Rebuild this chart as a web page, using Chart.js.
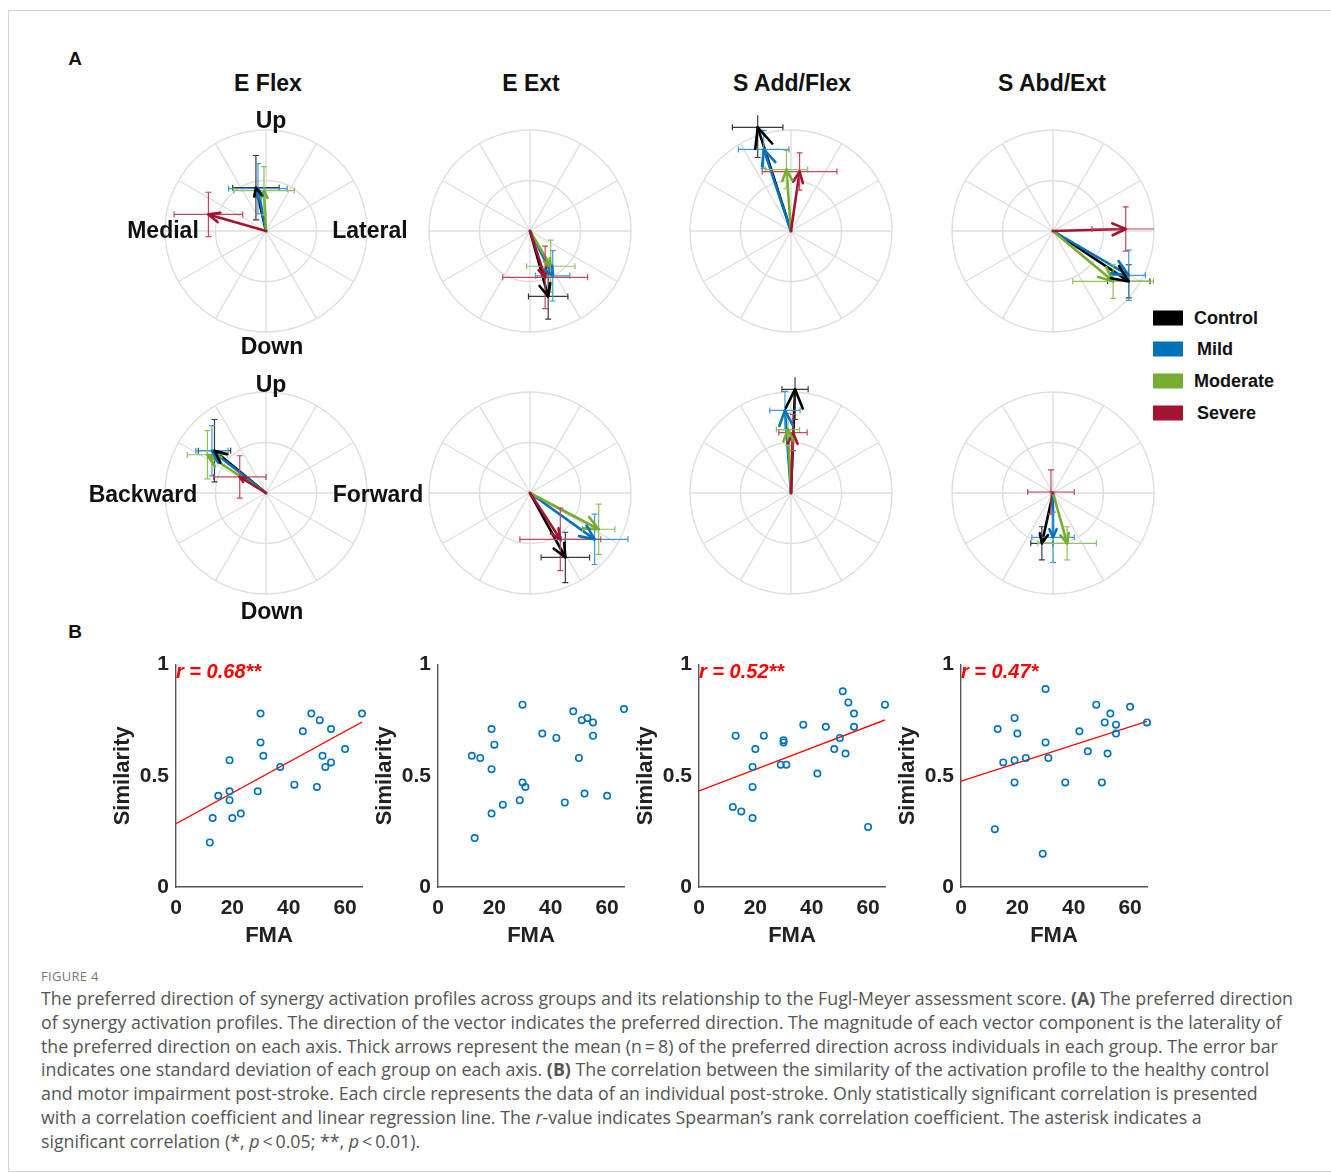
<!DOCTYPE html>
<html>
<head>
<meta charset="utf-8">
<script src="https://cdn.jsdelivr.net/npm/chart.js@4.4.1/dist/chart.umd.min.js"></script>
<style>
  body { margin: 0; background: #fff; }
  #fig { position: relative; width: 1331px; height: 1173px; overflow: hidden; font-family: "Liberation Sans", Arial, sans-serif; }
  #frame { position: absolute; left: 8px; top: 10px; width: 1340px; height: 1160px; border: 1px solid #d4d4d4; }
  canvas { position: absolute; z-index: 1; }
  .lab { position: absolute; z-index: 2; transform: translate(-50%, -50%); white-space: nowrap; font-weight: bold; font-size: 23px; color: #111; }
  .panel { font-size: 19px; }
  .leg { position: absolute; transform: translateY(-50%); font-weight: bold; font-size: 18px; color: #111; white-space: nowrap; }
  .sw { position: absolute; width: 30px; height: 15px; transform: translateY(-50%); }
  #figno { position: absolute; left: 41px; top: 967px; font-family: "Open Sans", sans-serif; font-size: 13px; color: #777; letter-spacing: 0.3px; }
  #cap { position: absolute; left: 41px; top: 987px; font-family: "Open Sans", sans-serif; font-size: 17.8px; line-height: 23.8px; color: #555; white-space: nowrap; }
</style>
</head>
<body>
<div id="fig">
  <div id="frame"></div>

  <div class="lab panel" style="left:75px;top:59px">A</div>
  <div class="lab panel" style="left:75px;top:632px">B</div>

  <div class="lab" style="left:268px;top:83px">E Flex</div>
  <div class="lab" style="left:531px;top:83px">E Ext</div>
  <div class="lab" style="left:792px;top:83px">S Add/Flex</div>
  <div class="lab" style="left:1052px;top:83px">S Abd/Ext</div>

  <div class="lab" style="left:271px;top:120px">Up</div>
  <div class="lab" style="left:163px;top:230px">Medial</div>
  <div class="lab" style="left:370px;top:230px">Lateral</div>
  <div class="lab" style="left:272px;top:346px">Down</div>

  <div class="lab" style="left:271px;top:384px">Up</div>
  <div class="lab" style="left:143px;top:494px">Backward</div>
  <div class="lab" style="left:378px;top:494px">Forward</div>
  <div class="lab" style="left:272px;top:611px">Down</div>

  <div id="legend"></div>

  <canvas id="p0" width="240" height="242"></canvas>
  <canvas id="p1" width="240" height="242"></canvas>
  <canvas id="p2" width="240" height="242"></canvas>
  <canvas id="p3" width="240" height="242"></canvas>
  <canvas id="p4" width="240" height="242"></canvas>
  <canvas id="p5" width="240" height="242"></canvas>
  <canvas id="p6" width="240" height="242"></canvas>
  <canvas id="p7" width="240" height="242"></canvas>

  <canvas id="s0" width="270" height="307"></canvas>
  <canvas id="s1" width="270" height="307"></canvas>
  <canvas id="s2" width="270" height="307"></canvas>
  <canvas id="s3" width="270" height="307"></canvas>

  <div id="figno">FIGURE 4</div>
  <div id="cap">
    The preferred direction of synergy activation profiles across groups and its relationship to the Fugl-Meyer assessment score. <b>(A)</b> The preferred direction<br>
    of synergy activation profiles. The direction of the vector indicates the preferred direction. The magnitude of each vector component is the laterality of<br>
    the preferred direction on each axis. Thick arrows represent the mean (n&#8201;=&#8201;8) of the preferred direction across individuals in each group. The error bar<br>
    indicates one standard deviation of each group on each axis. <b>(B)</b> The correlation between the similarity of the activation profile to the healthy control<br>
    and motor impairment post-stroke. Each circle represents the data of an individual post-stroke. Only statistically significant correlation is presented<br>
    with a correlation coefficient and linear regression line. The <i>r</i>-value indicates Spearman’s rank correlation coefficient. The asterisk indicates a<br>
    significant correlation (*, <i>p</i>&#8201;&lt;&#8201;0.05; **, <i>p</i>&#8201;&lt;&#8201;0.01).
  </div>
</div>

<script>
// groups and colours
const groups = ["Control", "Mild", "Moderate", "Severe"];
const arrowColors = ["#000000", "#0072BD", "#77AC30", "#A2142F"];
const errColors = ["#3a3a3a", "#3d9ad6", "#8fc25a", "#c2475f"];

// panel A: mean vector tips [x, y] and SDs [sx, sy] per group (Control, Mild, Moderate, Severe)
// row 1: x = medial(-)/lateral(+), y = down(-)/up(+)
const flexFrontTip = [[-0.10, 0.43], [-0.08, 0.42], [-0.02, 0.40], [-0.57, 0.165]];
const flexFrontSd  = [[0.23, 0.32], [0.29, 0.25], [0.30, 0.24], [0.34, 0.22]];
const extFrontTip  = [[0.18, -0.65], [0.225, -0.445], [0.205, -0.35], [0.15, -0.46]];
const extFrontSd   = [[0.195, 0.225], [0.17, 0.25], [0.24, 0.26], [0.42, 0.31]];
const addFrontTip  = [[-0.33, 1.03], [-0.27, 0.81], [-0.045, 0.61], [0.085, 0.59]];
const addFrontSd   = [[0.25, 0.30], [0.25, 0.19], [0.21, 0.19], [0.37, 0.185]];
const abdFrontTip  = [[0.75, -0.50], [0.75, -0.44], [0.595, -0.50], [0.72, 0.02]];
const abdFrontSd   = [[0.21, 0.165], [0.165, 0.25], [0.40, 0.17], [0.335, 0.22]];
// row 2: x = backward(-)/forward(+), y = down(-)/up(+)
const flexSagTip = [[-0.51, 0.42], [-0.535, 0.42], [-0.58, 0.38], [-0.26, 0.16]];
const flexSagSd  = [[0.16, 0.31], [0.16, 0.25], [0.20, 0.24], [0.26, 0.21]];
const extSagTip  = [[0.35, -0.64], [0.64, -0.46], [0.68, -0.36], [0.30, -0.46]];
const extSagSd   = [[0.24, 0.25], [0.33, 0.25], [0.16, 0.25], [0.40, 0.31]];
const addSagTip  = [[0.04, 1.03], [-0.06, 0.82], [-0.03, 0.63], [0.02, 0.60]];
const addSagSd   = [[0.13, 0.30], [0.15, 0.19], [0.115, 0.16], [0.14, 0.18]];
const abdSagTip  = [[-0.11, -0.50], [0.00, -0.44], [0.14, -0.50], [-0.02, 0.01]];
const abdSagSd   = [[0.11, 0.165], [0.21, 0.25], [0.29, 0.165], [0.23, 0.22]];

// panel B: FMA score of each post-stroke participant and similarity per synergy
const fma  = [12, 13, 15, 19, 19, 19, 20, 23, 29, 30, 30, 31, 37, 42, 45, 48, 50, 51, 52, 53, 55, 55, 60, 66];
const simEFlex  = [0.20, 0.31, 0.41, 0.57, 0.43, 0.39, 0.31, 0.33, 0.43, 0.78, 0.65, 0.59, 0.54, 0.46, 0.70, 0.78, 0.45, 0.75, 0.59, 0.54, 0.71, 0.56, 0.62, 0.78];
const simEExt   = [0.59, 0.22, 0.58, 0.71, 0.53, 0.33, 0.64, 0.37, 0.39, 0.82, 0.47, 0.45, 0.69, 0.67, 0.38, 0.79, 0.58, 0.75, 0.42, 0.76, 0.74, 0.68, 0.41, 0.80];
const simSAdd   = [0.36, 0.68, 0.34, 0.54, 0.45, 0.31, 0.62, 0.68, 0.55, 0.66, 0.65, 0.55, 0.73, 0.51, 0.72, 0.62, 0.67, 0.88, 0.60, 0.83, 0.78, 0.72, 0.27, 0.82];
const simSAbd   = [0.26, 0.71, 0.56, 0.76, 0.57, 0.47, 0.69, 0.58, 0.15, 0.89, 0.65, 0.58, 0.47, 0.70, 0.61, 0.82, 0.47, 0.74, 0.60, 0.78, 0.73, 0.69, 0.81, 0.74];
// regression line ends at FMA 0 and 66 (null = not significant)
const fitX = [0, 66];
const fitEFlex = [0.285, 0.742];
const fitSAdd  = [0.432, 0.751];
const fitSAbd  = [0.476, 0.745];
const rLabels = ["r = 0.68**", "", "r = 0.52**", "r = 0.47*"];

const fontFam = '"Liberation Sans", Arial, sans-serif';

// legend
const legend = document.getElementById('legend');
const legY = [318, 349, 381, 413];
const legX = [1194, 1197, 1194, 1197];
groups.forEach((g, i) => {
  legend.insertAdjacentHTML('beforeend',
    `<div class="sw" style="left:1153px;top:${legY[i]}px;background:${arrowColors[i]}"></div>` +
    `<div class="leg" style="left:${legX[i]}px;top:${legY[i]}px">${g}</div>`);
});

// polar grid: circles at 0.5 and 1, spokes every 30 degrees
const polarGrid = {
  id: 'polarGrid',
  beforeDatasetsDraw(chart) {
    const {ctx, scales: {x, y}} = chart;
    const cx = x.getPixelForValue(0), cy = y.getPixelForValue(0);
    const r = x.getPixelForValue(1) - cx;
    ctx.save();
    ctx.strokeStyle = '#dedede';
    ctx.lineWidth = 1.4;
    [0.5, 1].forEach(f => { ctx.beginPath(); ctx.arc(cx, cy, r * f, 0, Math.PI * 2); ctx.stroke(); });
    for (let a = 0; a < 360; a += 30) {
      const t = a * Math.PI / 180;
      ctx.beginPath();
      ctx.moveTo(cx, cy);
      ctx.lineTo(cx + r * Math.cos(t), cy - r * Math.sin(t));
      ctx.stroke();
    }
    ctx.restore();
  }
};

// open V arrow heads at the tip of each mean vector
const arrowHeads = {
  id: 'arrowHeads',
  afterDatasetsDraw(chart) {
    const ctx = chart.ctx;
    chart.data.datasets.forEach((ds, i) => {
      if (!ds.arrow) return;
      const pts = chart.getDatasetMeta(i).data;
      const a = pts[0], b = pts[1];
      const dx = b.x - a.x, dy = b.y - a.y, len = Math.hypot(dx, dy);
      if (len < 5) return;
      const ang = Math.atan2(dy, dx), h = 0.2 * len, w = 0.42;
      ctx.save();
      ctx.strokeStyle = ds.borderColor;
      ctx.lineWidth = ds.borderWidth;
      ctx.lineCap = 'round';
      ctx.lineJoin = 'round';
      ctx.beginPath();
      ctx.moveTo(b.x - h * Math.cos(ang - w), b.y - h * Math.sin(ang - w));
      ctx.lineTo(b.x, b.y);
      ctx.lineTo(b.x - h * Math.cos(ang + w), b.y - h * Math.sin(ang + w));
      ctx.stroke();
      ctx.restore();
    });
  }
};

function polarChart(id, left, top, tips, sds) {
  const el = document.getElementById(id);
  el.style.left = left + 'px';
  el.style.top = top + 'px';
  const datasets = [];
  // first dataset is drawn last, so Severe goes first to sit on top
  for (let i = groups.length - 1; i >= 0; i--) {
    const [x, y] = tips[i], [sx, sy] = sds[i];
    const bar = { showLine: true, borderColor: errColors[i], borderWidth: 1.2, pointStyle: 'line',
      pointRadius: 3, pointBorderColor: errColors[i], pointBorderWidth: 1.2 };
    datasets.push(Object.assign({ data: [{x: x - sx, y}, {x: x + sx, y}], pointRotation: 90 }, bar));
    datasets.push(Object.assign({ data: [{x, y: y - sy}, {x, y: y + sy}], pointRotation: 0 }, bar));
    datasets.push({ data: [{x: 0, y: 0}, {x, y}], showLine: true, arrow: true,
      borderColor: arrowColors[i], borderWidth: 2.6, pointRadius: 0, borderCapStyle: 'round' });
  }
  new Chart(el, {
    type: 'scatter',
    data: { datasets },
    options: {
      responsive: false, animation: false,
      layout: { padding: { left: 19, right: 19, top: 5, bottom: 5 } },
      plugins: { legend: { display: false }, tooltip: { enabled: false } },
      scales: {
        x: { display: false, min: -1, max: 1 },
        y: { display: false, min: -1.15, max: 1.15 }
      }
    },
    plugins: [polarGrid, arrowHeads]
  });
}

const colX = [266, 530, 791, 1053];
const rowY = [231, 493];
const polarTips = [flexFrontTip, extFrontTip, addFrontTip, abdFrontTip, flexSagTip, extSagTip, addSagTip, abdSagTip];
const polarSds = [flexFrontSd, extFrontSd, addFrontSd, abdFrontSd, flexSagSd, extSagSd, addSagSd, abdSagSd];
polarTips.forEach((t, k) => {
  polarChart('p' + k, colX[k % 4] - 120, rowY[Math.floor(k / 4)] - 121, t, polarSds[k]);
});

// red r-value in the upper left of each scatter
const rLabel = {
  id: 'rLabel',
  afterDraw(chart, args, opts) {
    if (!opts.text) return;
    const {ctx, chartArea, scales: {y}} = chart;
    ctx.save();
    ctx.font = 'italic bold 20px ' + fontFam;
    ctx.fillStyle = '#ff0000';
    ctx.textBaseline = 'middle';
    ctx.fillText(opts.text, chartArea.left, y.getPixelForValue(0.965));
    ctx.restore();
  }
};

function scatterChart(id, left, sims, fit, label) {
  const el = document.getElementById(id);
  el.style.left = left + 'px';
  el.style.top = '645px';
  const datasets = [{
    data: fma.map((f, i) => ({x: f, y: sims[i]})),
    pointStyle: 'circle', pointRadius: 3.2, pointBorderWidth: 1.6,
    pointBorderColor: '#0072BD', pointBackgroundColor: 'rgba(0,0,0,0)', clip: false
  }];
  if (fit) {
    datasets.push({ data: fitX.map((x, i) => ({x, y: fit[i]})), showLine: true,
      borderColor: '#ff0000', borderWidth: 1.3, pointRadius: 0 });
  }
  const tickFont = { family: fontFam, size: 21, weight: 'bold' };
  new Chart(el, {
    type: 'scatter',
    data: { datasets },
    options: {
      responsive: false, animation: false,
      layout: { padding: { left: 0, right: 12, top: 14, bottom: 0 } },
      plugins: { legend: { display: false }, tooltip: { enabled: false }, rLabel: { text: label } },
      scales: {
        x: {
          min: 0, max: 66,
          afterFit(s) { s.height = 65; },
          grid: { display: false, drawTicks: false },
          border: { color: '#555', width: 1.4 },
          ticks: { stepSize: 20, includeBounds: false, padding: 9, color: '#222', font: tickFont },
          title: { display: true, text: 'FMA', color: '#222', font: { family: fontFam, size: 22, weight: 'bold' }, padding: { top: 0, bottom: 3 } }
        },
        y: {
          min: 0, max: 1,
          afterFit(s) { s.width = 72; },
          grid: { display: false, drawTicks: false },
          border: { color: '#555', width: 1.4 },
          ticks: { stepSize: 0.5, padding: 7, color: '#222', font: tickFont, callback: v => String(v) },
          title: { display: true, text: 'Similarity', color: '#222', font: { family: fontFam, size: 22, weight: 'bold' }, padding: { top: 6, bottom: 0 } }
        }
      }
    },
    plugins: [rLabel]
  });
}

const originX = [176, 437.5, 699, 960.5];
scatterChart('s0', originX[0] - 72, simEFlex, fitEFlex, rLabels[0]);
scatterChart('s1', originX[1] - 72, simEExt, null, rLabels[1]);
scatterChart('s2', originX[2] - 72, simSAdd, fitSAdd, rLabels[2]);
scatterChart('s3', originX[3] - 72, simSAbd, fitSAbd, rLabels[3]);
</script>
</body>
</html>
